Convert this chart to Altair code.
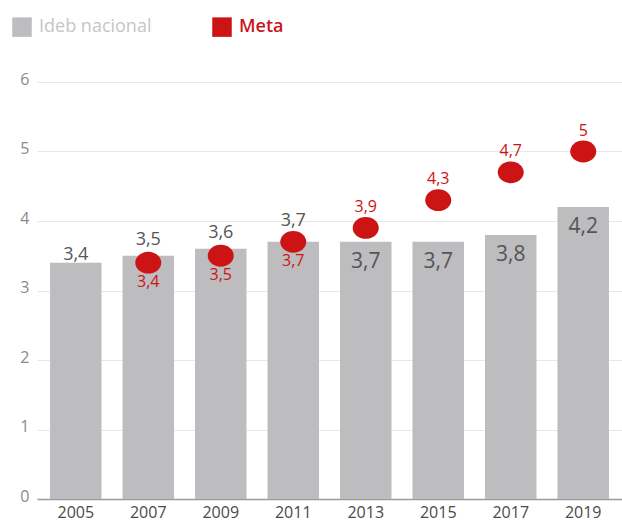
import altair as alt
import pandas as pd

anos = ["2005", "2007", "2009", "2011", "2013", "2015", "2017", "2019"]
ideb = [3.4, 3.5, 3.6, 3.7, 3.7, 3.7, 3.8, 4.2]
meta_anos = ["2007", "2009", "2011", "2013", "2015", "2017", "2019"]
meta = [3.4, 3.5, 3.7, 3.9, 4.3, 4.7, 5.0]
series = ["Ideb nacional", "Meta"]
ticks_y = [0, 1, 2, 3, 4, 5, 6]

df_b = pd.DataFrame({"ano": anos, "valor": ideb, "serie": series[0]})
df_m = pd.DataFrame({"ano": meta_anos, "valor": meta, "serie": series[1]})

FONT = "Open Sans"
GRAY = "#bdbcbe"
RED = "#cc1414"
ELLIPSE = "M -1.1 0 A 1.1 0.92 0 1 1 1.1 0 A 1.1 0.92 0 1 1 -1.1 0 Z"

x = alt.X(
    "ano:N",
    scale=alt.Scale(domain=anos, paddingInner=0.29, paddingOuter=0.18),
    axis=alt.Axis(title=None, labelAngle=0, labelFontSize=16, labelColor="#4a4a4a",
                  domainColor="#9a9a9a", domainWidth=1.5, ticks=False, labelPadding=5,
                  grid=False, labelFont=FONT, labelBaseline="top"),
)
y = alt.Y(
    "valor:Q",
    scale=alt.Scale(domain=[0, 6], nice=False),
    axis=alt.Axis(title=None, values=ticks_y, format="d", grid=True, gridColor="#e8e8e8",
                  domain=False, ticks=False, labelColor="#8a8a8a", labelFontSize=16,
                  labelPadding=8, labelOffset=-3, labelFont=FONT),
)
color = alt.Color(
    "serie:N",
    scale=alt.Scale(domain=series, range=[GRAY, RED]),
    legend=alt.Legend(
        title=None, orient="none", legendX=-25, legendY=-65, direction="horizontal",
        symbolType="square", symbolSize=380, symbolStrokeWidth=0, labelFontSize=18,
        labelFont=FONT, labelOffset=7, columnPadding=60,
        labelColor=alt.ExprRef("datum.label == 'Meta' ? '#c8161d' : '#c6c6c6'"),
        labelFontWeight=alt.ExprRef("datum.label == 'Meta' ? 600 : 400"),
    ),
)

lbl = "replace(format(datum.valor, '.1~f'), '.', ',')"

base_b = alt.Chart(df_b).transform_calculate(lbl=lbl)
base_m = alt.Chart(df_m).transform_calculate(lbl=lbl)

bars = alt.Chart(df_b).mark_bar(opacity=1).encode(x=x, y=y, color=color)
dots = alt.Chart(df_m).mark_point(filled=True, size=560, opacity=1, shape=ELLIPSE).encode(
    x=x, y=y, color=color)

tb = dict(fontSize=18, font=FONT, color="#555555", align="center", baseline="alphabetic")
t1 = base_b.transform_filter("datum.ano == '2005'").mark_text(dy=-3, **tb).encode(
    x="ano:N", y="valor:Q", text="lbl:N")
t2 = base_b.transform_filter("datum.ano == '2007' || datum.ano == '2009'").mark_text(
    dy=-11, **tb).encode(x="ano:N", y="valor:Q", text="lbl:N")
t3 = base_b.transform_filter("datum.ano == '2011'").mark_text(dy=-16, **tb).encode(
    x="ano:N", y="valor:Q", text="lbl:N")
tin = dict(tb, fontSize=21)
t4 = base_b.transform_filter("toNumber(datum.ano) >= 2013").mark_text(dy=26, **tin).encode(
    x="ano:N", y="valor:Q", text="lbl:N")

tm = dict(fontSize=16, font=FONT, color=RED, align="center", baseline="alphabetic")
t5 = base_m.transform_filter("toNumber(datum.ano) <= 2011").mark_text(dy=24, **tm).encode(
    x="ano:N", y="valor:Q", text="lbl:N")
t6 = base_m.transform_filter("toNumber(datum.ano) >= 2013").mark_text(dy=-16, **tm).encode(
    x="ano:N", y="valor:Q", text="lbl:N")

chart = alt.layer(bars, dots, t1, t2, t3, t4, t5, t6).properties(
    width=585, height=417, autosize="none", background="white",
    padding={"left": 37, "top": 82, "right": 0, "bottom": 23},
).configure_view(stroke=None)

chart.save("out.html", embed_options={"renderer": "svg", "actions": False})
